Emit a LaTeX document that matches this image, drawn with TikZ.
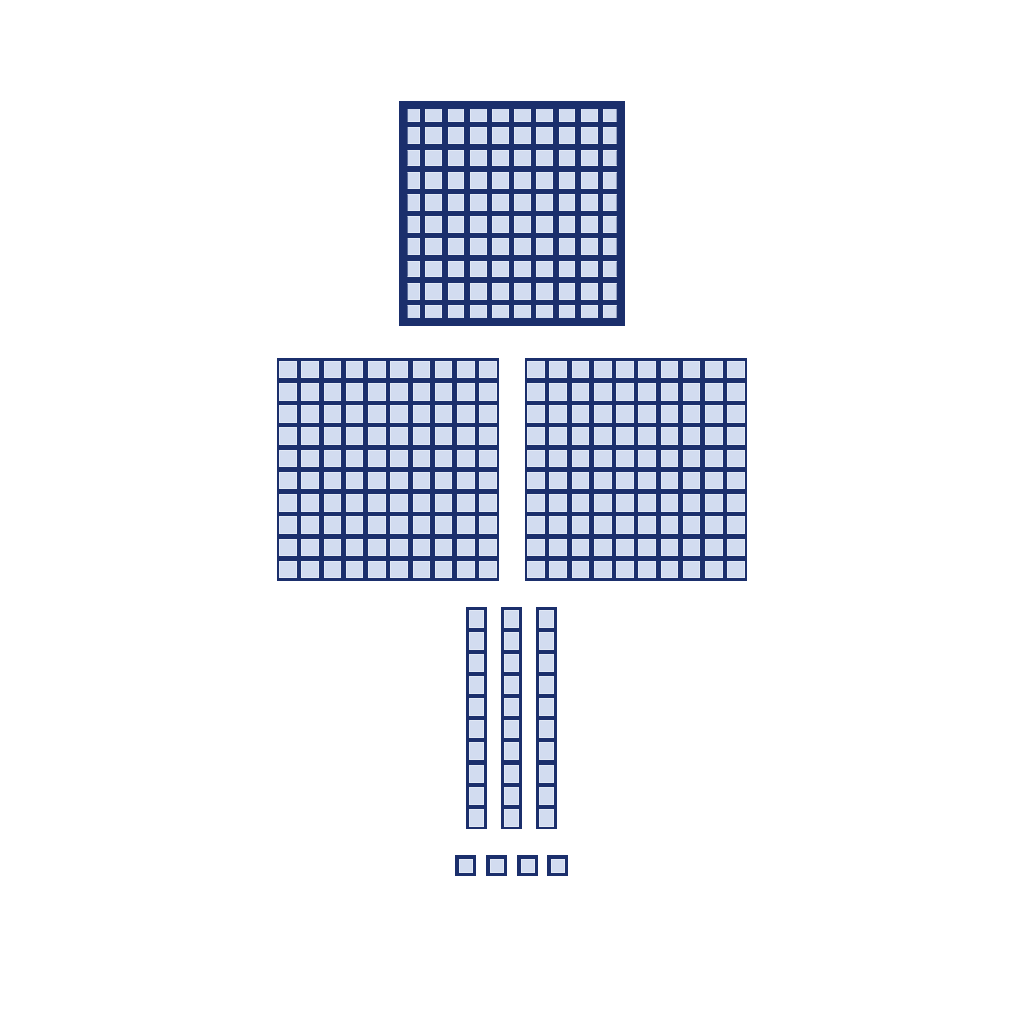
\documentclass[tikz,border=0pt]{standalone}
\definecolor{navy}{HTML}{1B2F6C}
\definecolor{cellfill}{HTML}{D2DCF0}
\definecolor{celledge}{HTML}{E2E9F6}
\begin{document}
\begin{tikzpicture}[x=1pt,y=-1pt,
  dark/.style={fill=navy},
  cell/.style={fill=cellfill, draw=celledge, line width=0.4pt}]
\useasboundingbox[fill=white] (0,0) rectangle (1024,1024);

% top block (thick border)
\fill[navy] (399,101) rectangle (625,326);
\begin{scope}
  \clip (407.5,109.5) rectangle (616.5,317.5);
  \foreach \i in {0,...,9}
    \foreach \j in {0,...,9}
      \path[cell] ({403.4+22.2*\i},{105.4+22.2*\j}) rectangle ++(15.8,15.8);
\end{scope}

% two hundred flats
\foreach \x in {276.5,524.5} {
  \fill[navy] (\x,358) rectangle ++(222.5,222.5);
  \foreach \i in {0,...,9}
    \foreach \j in {0,...,9}
      \path[cell] ({\x+2.9+22.23*\i},{360.9+22.23*\j}) rectangle ++(16.6,16.6);
}

% three rods
\foreach \x in {466,501,536} {
  \fill[navy] (\x,607) rectangle ++(21,222);
  \foreach \j in {0,...,9}
    \path[cell] ({\x+3.6},{610+22.1*\j}) rectangle ++(13.8,17);
}

% four ones
\foreach \x in {455,486,517,547} {
  \fill[navy] (\x,855) rectangle ++(21,21);
  \path[cell] ({\x+3.8},858.8) rectangle ++(13.4,13.4);
}
\end{tikzpicture}
\end{document}
